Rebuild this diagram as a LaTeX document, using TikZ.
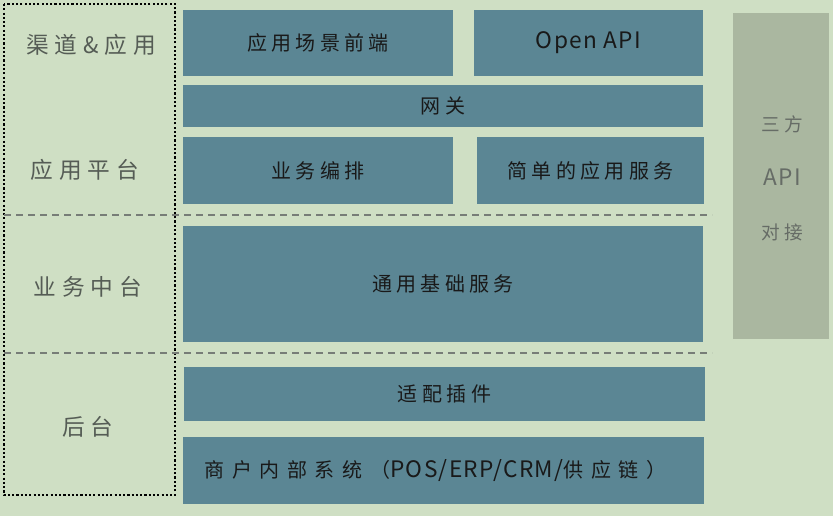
\documentclass[tikz,border=0pt]{standalone}
\usepackage{fontspec}
\setmainfont{Noto Sans CJK SC}
\newfontfamily\boxfont{Noto Sans CJK SC}[LetterSpace=22]
\newfontfamily\widefont{Noto Sans CJK SC}[LetterSpace=38]
\newfontfamily\sidefont{Noto Sans CJK SC}[LetterSpace=26]
\newfontfamily\latinfont{Noto Sans CJK SC}[LetterSpace=6]
\newcommand\lat[1]{{\latinfont\fontsize{17}{19}\selectfont #1}}

\definecolor{bg}{HTML}{CFDFC4}
\definecolor{boxblue}{HTML}{5B8694}
\definecolor{apigray}{HTML}{AAB7A0}
\definecolor{labelgray}{HTML}{555C55}

\tikzset{
	layer/.style={text=black!90, font=\boxfont\fontsize{15}{17}\selectfont},
	tier/.style={text=labelgray, font=\sidefont\fontsize{17}{20}\selectfont},
	api/.style={text=labelgray!90, font=\boxfont\fontsize{14}{16}\selectfont},
	sep/.style={labelgray!80, line width=0.9pt, dash pattern=on 5pt off 4pt},
}

\begin{document}
\begin{tikzpicture}[x=0.75pt, y=-0.75pt]
	\fill[bg] (0,0) rectangle (833,516);
	\useasboundingbox (0,0) rectangle (833,516);
	% left column
	\draw[line width=2pt, dash pattern=on 1.6pt off 1.6pt] (4,4) rectangle (175,495);
	\node[tier] (channel) at (91,45) {渠道\&应用};
	\node[tier] (platform) at (85,170) {应用平台};
	\node[tier] (middle) at (88,287) {业务中台};
	\node[tier] (backend) at (88,427) {后台};
	\draw[sep] (4,215) -- (712,215);
	\draw[sep] (4,353) -- (712,353);
	% layers
	\fill[boxblue] (183,10) rectangle node[layer] (front) {应用场景前端} (453,76);
	\fill[boxblue] (474,10) rectangle node[layer] (open) {\lat{Open API}} (703,76);
	\fill[boxblue] (183,85) rectangle node[layer] (gateway) {网关} (703,127);
	\fill[boxblue] (183,137) rectangle node[layer] (orch) {业务编排} (453,204);
	\fill[boxblue] (477,137) rectangle node[layer] (simple) {简单的应用服务} (704,204);
	\fill[boxblue] (183,226) rectangle node[layer] (common) {通用基础服务} (703,342);
	\fill[boxblue] (184,367) rectangle node[layer] (adapter) {适配插件} (705,421);
	\fill[boxblue] (183,437) rectangle node[layer, xshift=-6pt, font=\widefont\fontsize{15}{17}\selectfont] (internal) {商户内部系统（\lat{POS/ERP/CRM/}供应链）} (704,504);
	% third party
	\fill[apigray] (733,13) rectangle (829,339);
	\node[api] (third) at (782,124) {三方};
	\node[api] (apiname) at (782,177) {\lat{API}};
	\node[api] (dock) at (782,232) {对接};
\end{tikzpicture}
\end{document}
